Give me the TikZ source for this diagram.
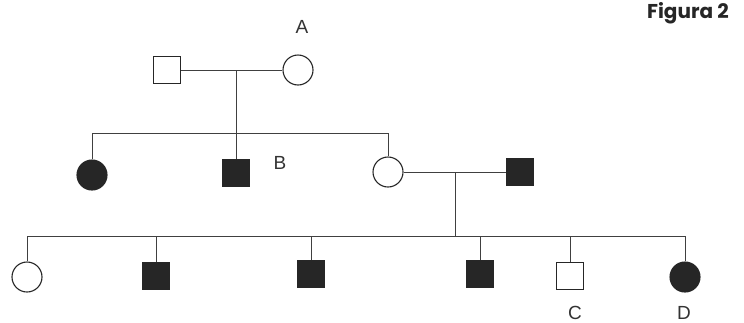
\documentclass[tikz,border=0pt]{standalone}
\usepackage{fontspec}
\setmainfont{Liberation Sans}
\newfontfamily\figfont{Poppins}
\begin{document}
\begin{tikzpicture}[x=1pt,y=-1pt,
  male/.style={draw=black!85,line width=1.1pt,rectangle,minimum size=27pt,inner sep=0pt},
  female/.style={draw=black!85,line width=1.1pt,circle,minimum size=30pt,inner sep=0pt},
  aff/.style={fill=black!85},
  lnk/.style={draw=black!75,line width=0.9pt},
  lbl/.style={font=\fontsize{19}{19}\selectfont,text=black!80,inner sep=0pt}]
\useasboundingbox (0,0) rectangle (744,322);
\node[font=\figfont\bfseries\fontsize{20}{20}\selectfont,text=black!85,inner sep=0pt] (fig) at (688,13) {Figura 2};
% generation 1
\node[male] (g1m) at (167,70) {};
\node[female] (g1f) at (298,70) {};
\node[lbl] (la) at (302,27) {A};
\coordinate (d1) at (236,70);
\coordinate (s1) at (236,133);
\coordinate (s1l) at (92,133);
\coordinate (s1r) at (388,133);
\draw[lnk] (g1m) -- (g1f);
\draw[lnk] (d1) -- (s1);
\draw[lnk] (s1l) -- (s1r);
% generation 2
\node[female,aff] (g2a) at (92,175) {};
\node[male,aff] (g2b) at (236,173) {};
\node[lbl] (lb) at (280,163) {B};
\node[female] (g2c) at (388,172) {};
\node[male,aff] (g2s) at (520,172) {};
\draw[lnk] (s1l) -- (g2a);
\draw[lnk] (s1) -- (g2b);
\draw[lnk] (s1r) -- (g2c);
\draw[lnk] (g2c) -- (g2s);
\coordinate (d2) at (455,172);
\coordinate (s2) at (455,236);
\coordinate (s2l) at (27,236);
\coordinate (s2r) at (685,236);
\draw[lnk] (d2) -- (s2);
\draw[lnk] (s2l) -- (s2r);
% generation 3
\node[female] (g3a) at (27,277) {};
\node[male,aff] (g3b) at (156,276) {};
\node[male,aff] (g3c) at (311,274) {};
\node[male,aff] (g3d) at (480,274) {};
\node[male] (g3e) at (570,276) {};
\node[female,aff] (g3f) at (685,277) {};
\node[lbl] (lc) at (575,313) {C};
\node[lbl] (ld) at (684,313) {D};
\foreach \n/\x in {g3a/27,g3b/156,g3c/311,g3d/480,g3e/570,g3f/685}
  \draw[lnk] (\x,236) -- (\n.north);
\end{tikzpicture}
\end{document}
